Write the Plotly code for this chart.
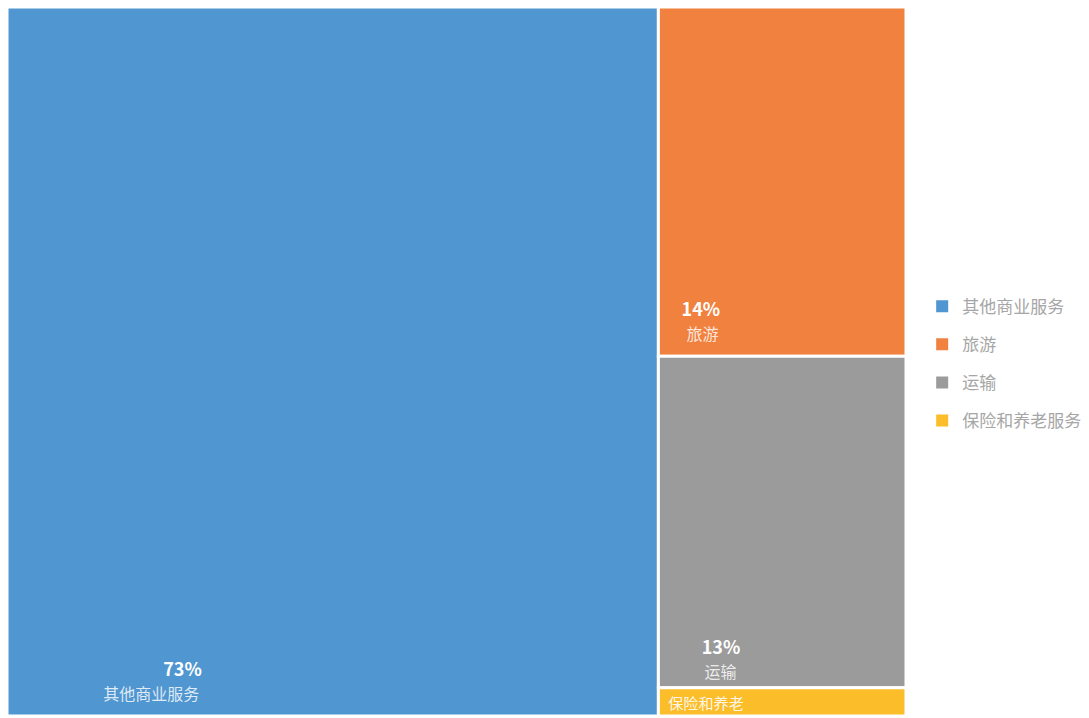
import plotly.graph_objects as go

labels = ["其他商业服务", "旅游", "运输", "保险和养老服务"]
values = [72.6, 13.6, 12.9, 1.1]
pct_text = ["73%", "14%", "13%", ""]
shown_names = ["其他商业服务", "旅游", "运输", "保险和养老"]
colors = ["#5096d0", "#f0813f", "#9b9b9b", "#fbbd2a"]

# styling: indents (non-breaking spaces) and bottom spacer lines of each tile's label
pct_indent = [38, 5, 10, 0]
name_indent = [26, 7, 12, 2]
spacer_lines = [2, 2, 1, 0]

BASE = 4.6  # base font size -> one text line step of ~6px


def nb(n):
    return "&nbsp;" * n


texts = []
for p, n, pi, ni, sp in zip(pct_text, shown_names, pct_indent, name_indent, spacer_lines):
    if p:
        t = ("<span style='font-size:18px'>" + nb(pi) + "<b>" + p + "</b></span>"
             + "<br>&nbsp;" * 3
             + "<br><span style='font-size:16px;color:rgba(255,255,255,0.82)'>" + nb(ni) + n + "</span>"
             + "<br>&nbsp;" * sp)
    else:
        t = "<span style='font-size:17px;color:rgba(255,255,255,0.9)'>" + nb(ni) + n + "</span>"
    texts.append(t)

fig = go.Figure()
fig.add_trace(go.Treemap(
    labels=labels,
    parents=[""] * len(labels),
    values=values,
    text=texts,
    sort=True,
    texttemplate="%{text}",
    textposition="bottom left",
    textfont=dict(family="Noto Sans CJK SC", size=BASE, color="white"),
    marker=dict(colors=colors, line=dict(width=3, color="white"),
                pad=dict(t=0, l=0, r=0, b=0)),
    tiling=dict(pad=0, packing="squarify"),
    pathbar=dict(visible=False),
    hoverinfo="label+value",
))

for name, c in zip(labels, colors):
    fig.add_trace(go.Scatter(
        x=[None], y=[None], mode="markers", name=name, legendgroup=name,
        marker=dict(symbol="square", size=11, color=c),
        showlegend=True,
    ))

fig.update_layout(
    width=1089, height=718,
    margin=dict(l=7, r=183, t=7, b=2),
    paper_bgcolor="white", plot_bgcolor="white",
    xaxis=dict(visible=False), yaxis=dict(visible=False),
    legend=dict(
        x=1.018, xanchor="left", y=0.497, yanchor="middle",
        font=dict(family="Noto Sans CJK SC", size=17, color="#a6a6a6"),
        tracegroupgap=13, itemsizing="constant", itemwidth=30,
        bgcolor="rgba(0,0,0,0)",
    ),
)

fig.write_html("out.html", config={"displayModeBar": False},
               post_script="document.body.style.margin='0px';")
